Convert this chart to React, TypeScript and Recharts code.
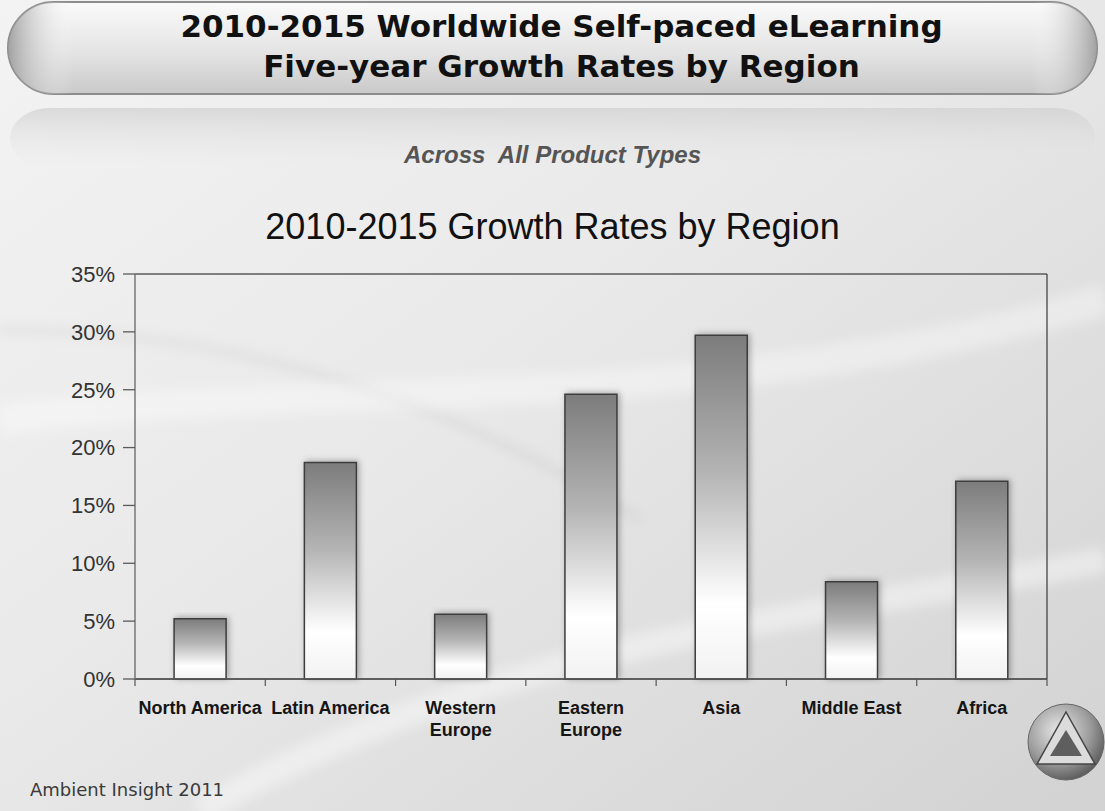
import React from "react";
import { BarChart, Bar, XAxis, YAxis, CartesianGrid } from "recharts";

// categories and values
const regions = [
  "North America",
  "Latin America",
  "Western Europe",
  "Eastern Europe",
  "Asia",
  "Middle East",
  "Africa",
];
const growthRates = [5.2, 18.7, 5.6, 24.6, 29.7, 8.4, 17.1];
const regionLabelLines = [
  ["North America"],
  ["Latin America"],
  ["Western", "Europe"],
  ["Eastern", "Europe"],
  ["Asia"],
  ["Middle East"],
  ["Africa"],
];
const yTicks = [0, 5, 10, 15, 20, 25, 30, 35];

const data = regions.map((region, i) => ({ region, rate: growthRates[i] }));

const W = 1105;
const H = 811;
const PLOT_LEFT = 135;
const PLOT_RIGHT = 1047;
const BAND = (PLOT_RIGHT - PLOT_LEFT) / regions.length;

function RegionTick(props: any) {
  const { x, y, payload, index } = props;
  const lines = regionLabelLines[index] ?? [payload.value];
  const left = x - BAND / 2;
  return (
    <g>
      <line x1={left} x2={left} y1={y} y2={y + 7} stroke="#555" strokeWidth={1.2} />
      {index === regions.length - 1 && (
        <line x1={left + BAND} x2={left + BAND} y1={y} y2={y + 7} stroke="#555" strokeWidth={1.2} />
      )}
      <text
        x={x}
        y={y + 35}
        textAnchor="middle"
        fontFamily="'Liberation Sans', Arial, sans-serif"
        fontWeight="bold"
        fontSize={18}
        fill="#151515"
      >
        {lines.map((l: string, k: number) => (
          <tspan key={k} x={x} dy={k === 0 ? 0 : 22}>
            {l}
          </tspan>
        ))}
      </text>
    </g>
  );
}

function Backdrop() {
  return (
    <svg width={W} height={H} style={{ position: "absolute", left: 0, top: 0 }}>
      <defs>
        <linearGradient id="bg" x1="0" y1="0" x2="1" y2="1">
          <stop offset="0%" stopColor="#f3f3f3" />
          <stop offset="45%" stopColor="#e9e9e9" />
          <stop offset="100%" stopColor="#d2d2d2" />
        </linearGradient>
        <linearGradient id="pill" x1="0" y1="0" x2="0" y2="1">
          <stop offset="0%" stopColor="#fafafa" />
          <stop offset="55%" stopColor="#e4e4e4" />
          <stop offset="100%" stopColor="#c9c9c9" />
        </linearGradient>
        <linearGradient id="pillEdge" x1="0" y1="0" x2="1" y2="0">
          <stop offset="0%" stopColor="#9a9a9a" stopOpacity={0.9} />
          <stop offset="6%" stopColor="#ffffff" stopOpacity={0} />
          <stop offset="94%" stopColor="#ffffff" stopOpacity={0} />
          <stop offset="100%" stopColor="#9a9a9a" stopOpacity={0.9} />
        </linearGradient>
        <linearGradient id="reflect" x1="0" y1="0" x2="0" y2="1">
          <stop offset="0%" stopColor="#cfcfcf" stopOpacity={0.7} />
          <stop offset="100%" stopColor="#e8e8e8" stopOpacity={0} />
        </linearGradient>
        <radialGradient id="logo" cx="0.4" cy="0.35" r="0.7">
          <stop offset="0%" stopColor="#e8e8e8" />
          <stop offset="60%" stopColor="#9c9c9c" />
          <stop offset="100%" stopColor="#555" />
        </radialGradient>
        <filter id="soft" x="-20%" y="-20%" width="140%" height="140%">
          <feGaussianBlur stdDeviation="6" />
        </filter>
      </defs>
      <rect x={0} y={0} width={W} height={H} fill="url(#bg)" />
      {/* faint swooshes */}
      <path d="M 0 330 C 200 330 420 380 640 520" stroke="#9a9a9a" strokeWidth={8} fill="none" opacity={0.15} filter="url(#soft)" />
      <path d="M 0 420 C 300 380 700 420 1105 300" stroke="#ffffff" strokeWidth={30} fill="none" opacity={0.35} filter="url(#soft)" />
      <path d="M 200 811 C 500 640 800 620 1105 560" stroke="#ffffff" strokeWidth={26} fill="none" opacity={0.4} filter="url(#soft)" />
      {/* title capsule and its reflection */}
      <rect x={10} y={108} width={1085} height={60} rx={40} fill="url(#reflect)" />
      <rect x={8} y={2} width={1089} height={92} rx={46} fill="url(#pill)" stroke="#8c8c8c" strokeWidth={2} />
      <rect x={8} y={2} width={1089} height={92} rx={46} fill="url(#pillEdge)" />
      {/* logo */}
      <circle cx={1066} cy={742} r={38} fill="url(#logo)" stroke="#666" strokeWidth={1} />
      <polygon points="1066,712 1095,764 1037,764" fill="#dcdcdc" stroke="#444" strokeWidth={1.5} />
      <polygon points="1066,730 1082,756 1050,756" fill="#5e5e5e" />
    </svg>
  );
}

export default function App() {
  return (
    <div style={{ position: "absolute", left: 0, top: 0, width: W, height: H, overflow: "hidden" }}>
      <Backdrop />
      <div
        style={{
          position: "absolute",
          left: 0,
          top: 6,
          width: W,
          textAlign: "center",
          fontFamily: "'DejaVu Sans', Verdana, sans-serif",
          fontWeight: "bold",
          fontSize: 31,
          lineHeight: "40px",
          color: "#111",
        }}
      >
        <div style={{ paddingLeft: 18 }}>2010-2015 Worldwide Self-paced eLearning</div>
        <div style={{ paddingLeft: 18 }}>Five-year Growth Rates by Region</div>
      </div>
      <div
        style={{
          position: "absolute",
          left: 0,
          top: 141,
          width: W,
          textAlign: "center",
          fontFamily: "'Liberation Sans', Arial, sans-serif",
          fontWeight: "bold",
          fontStyle: "italic",
          fontSize: 24,
          lineHeight: "28px",
          color: "#555",
          whiteSpace: "pre",
        }}
      >
        {"Across  All Product Types"}
      </div>
      <div
        style={{
          position: "absolute",
          left: 0,
          top: 206,
          width: W,
          textAlign: "center",
          fontFamily: "'Liberation Sans', Arial, sans-serif",
          fontSize: 36,
          lineHeight: "42px",
          color: "#111",
        }}
      >
        2010-2015 Growth Rates by Region
      </div>
      <div
        style={{
          position: "absolute",
          left: 30,
          top: 779,
          fontFamily: "'DejaVu Sans', sans-serif",
          fontSize: 18,
          lineHeight: "22px",
          color: "#3a3a3a",
        }}
      >
        Ambient Insight 2011
      </div>
      <div style={{ position: "absolute", left: 0, top: 0 }}>
        <BarChart
          width={W}
          height={H}
          data={data}
          margin={{ top: 274, right: 0, bottom: 52, left: 0 }}
          barCategoryGap="30%"
        >
          <defs>
            <linearGradient id="barFill" x1="0" y1="0" x2="0" y2="1">
              <stop offset="0%" stopColor="#7c7c7c" />
              <stop offset="40%" stopColor="#b4b4b4" />
              <stop offset="78%" stopColor="#ffffff" />
              <stop offset="100%" stopColor="#f2f2f2" />
            </linearGradient>
            <filter id="barShadow" x="-30%" y="-10%" width="160%" height="120%">
              <feDropShadow dx={2} dy={-1} stdDeviation={3} floodColor="#000" floodOpacity={0.3} />
            </filter>
          </defs>
          <CartesianGrid vertical={false} stroke="#5a5a5a" strokeWidth={1.3} />
          <XAxis
            dataKey="region"
            interval={0}
            height={80}
            tickLine={false}
            tickSize={0}
            tickMargin={0}
            axisLine={{ stroke: "#555", strokeWidth: 1.3 }}
            tick={<RegionTick />}
          />
          <YAxis
            yAxisId="left"
            width={PLOT_LEFT}
            domain={[0, 35]}
            ticks={yTicks}
            interval={0}
            tickFormatter={(v: number) => `${v}%`}
            tickSize={12}
            tickMargin={8}
            tickLine={{ stroke: "#5a5a5a", strokeWidth: 1.3 }}
            axisLine={{ stroke: "#777", strokeWidth: 1.5 }}
            tick={{ fontFamily: "'Liberation Sans', Arial, sans-serif", fontSize: 22, fill: "#333" }}
          />
          <YAxis
            yAxisId="right"
            orientation="right"
            width={W - PLOT_RIGHT}
            domain={[0, 35]}
            ticks={yTicks}
            tick={false}
            tickLine={false}
            axisLine={{ stroke: "#444", strokeWidth: 1.3 }}
          />
          <Bar
            yAxisId="left"
            dataKey="rate"
            fill="url(#barFill)"
            stroke="#3c3c3c"
            strokeWidth={1.5}
            style={{ filter: "url(#barShadow)" }}
            isAnimationActive={false}
          />
        </BarChart>
      </div>
    </div>
  );
}
